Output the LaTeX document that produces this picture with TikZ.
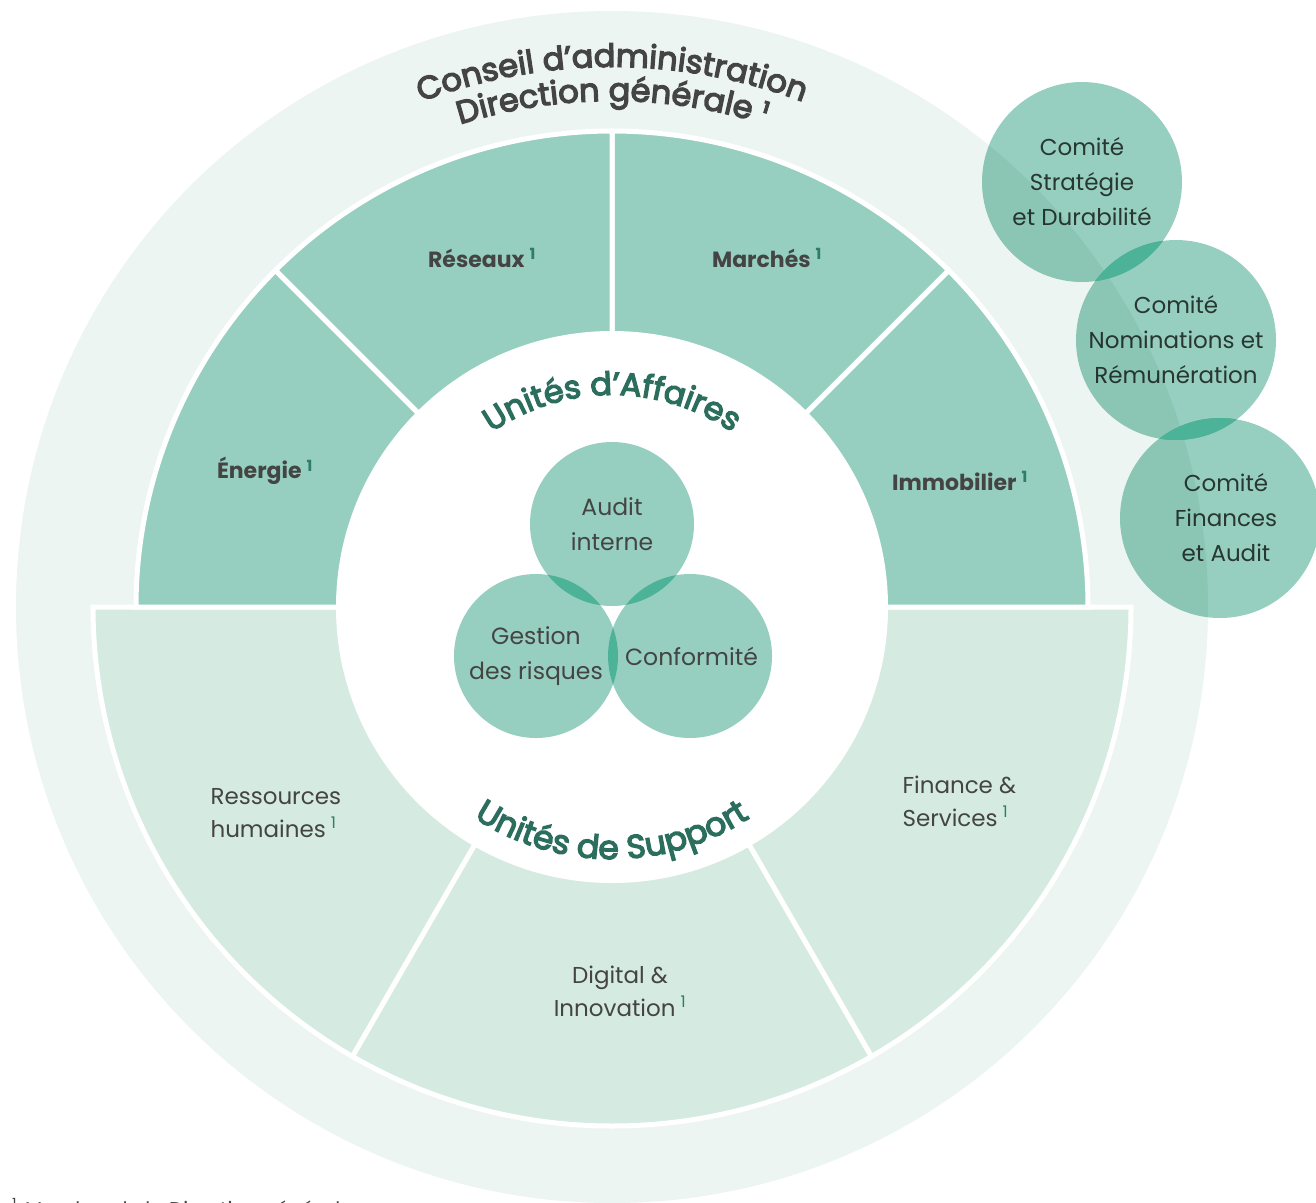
\documentclass[tikz,border=0pt]{standalone}
\usepackage{fontspec}
\setmainfont{Poppins}
\newfontfamily\medfont[FakeBold=4]{Poppins}
\usetikzlibrary{positioning,calc,decorations.text}
\definecolor{ringgreen}{HTML}{EDF5F2}
\definecolor{bizgreen}{HTML}{96CFBF}
\definecolor{supgreen}{HTML}{D5EBE2}
\definecolor{lensgreen}{HTML}{4DB398}
\definecolor{darkteal}{HTML}{2C6E5E}
\definecolor{supteal}{HTML}{2E7D6B}
\definecolor{textgray}{HTML}{444444}
\newcommand{\note}{\hspace{5pt}\textsuperscript{\textcolor{supteal}{1}}}
\tikzset{
    %Define style for sectors
    bizsector/.style={
           fill=bizgreen,
           draw=white, line width=5pt},
    supsector/.style={
           fill=supgreen,
           draw=white, line width=5pt},
    %Define style for labels
    bizlabel/.style={
           font=\fontsize{22}{26}\selectfont\bfseries,
           text=textgray},
    suplabel/.style={
           font=\fontsize{23}{33}\selectfont,
           text=textgray,
           align=left},
    venn/.style={
           circle,
           fill=bizgreen,
           minimum size=164pt,
           inner sep=0pt,
           font=\fontsize{23.5}{35}\selectfont,
           text=textgray,
           align=center},
    comite/.style={
           circle,
           fill=bizgreen,
           minimum size=200pt,
           inner sep=0pt,
           font=\fontsize{23}{35}\selectfont,
           text=textgray,
           align=center},
    lens/.style={fill=lensgreen}
}

\begin{document}
\begin{tikzpicture}[x=1pt,y=1pt]
\useasboundingbox (0,0) rectangle (1316,-1202);
\coordinate (C) at (612,-607);
% outer ring
\fill[ringgreen] (C) circle[radius=596];
% support units
\foreach \a in {180,240,300}
    \draw[supsector] (C) -- ++(\a:519) arc[start angle=\a, delta angle=60, radius=519] -- cycle;
% business units
\foreach \a in {0,45,90,135}
    \draw[bizsector] (C) -- ++(\a:476) arc[start angle=\a, delta angle=45, radius=476] -- cycle;
\fill[white] (C) circle[radius=276];

% ring titles
\path[decorate, decoration={text along path, text align=center,
    text={|\medfont\fontsize{32}{32}\selectfont\color{textgray}|Conseil d’administration}}]
    ($(C)+(150:540)$) arc[start angle=150, end angle=30, radius=540];
\path[decorate, decoration={text along path, text align=center,
    text={|\medfont\fontsize{32}{32}\selectfont\color{textgray}|Direction générale ¹}}]
    ($(C)+(150:506)$) arc[start angle=150, end angle=30, radius=506];
\path[decorate, decoration={text along path, text align=center,
    text={|\medfont\fontsize{32}{32}\selectfont\color{darkteal}|Unités d’Affaires}}]
    ($(C)+(160:212)$) arc[start angle=160, end angle=20, radius=212];
\path[decorate, decoration={text along path, text align=center,
    text={|\medfont\fontsize{33}{33}\selectfont\color{darkteal}|Unités de Support}}]
    ($(C)+(200:252)$) arc[start angle=200, end angle=340, radius=252];

% sector labels
\node[bizlabel] (reseaux) at (482,-258) {Réseaux\note};
\node[bizlabel] (marches) at (767,-258) {Marchés\note};
\node[bizlabel] (energie) at (265,-471) {Énergie\note};
\node[bizlabel] (immo) at (960,-481) {Immobilier\note};
\node[suplabel, anchor=west] (rh) at (207,-813) {Ressources\\humaines\note};
\node[suplabel, align=center] (digital) at (620,-991) {Digital \&\\Innovation\note};
\node[suplabel, anchor=west] (finance) at (899,-801) {Finance \&\\Services\note};

% control functions
\node[venn] (audit) at (612,-524) {Audit\\interne};
\node[venn] (gestion) at (536,-656) {Gestion\\des risques};
\node[venn] (conf) at (690,-656) {\hspace*{3pt}Conformité};
\begin{scope}
    \clip (audit.center) circle[radius=82];
    \fill[lens] (gestion.center) circle[radius=82];
    \fill[lens] (conf.center) circle[radius=82];
\end{scope}
\begin{scope}
    \clip (gestion.center) circle[radius=82];
    \fill[lens] (conf.center) circle[radius=82];
\end{scope}

% committees
\begin{scope}[blend mode=multiply]
\node[comite] (strat) at (1082,-182) {Comité\\Stratégie\\et Durabilité};
\node[comite] (nomin) at (1176,-340) {Comité\\Nominations et\\Rémunération};
\node[comite] (fin) at (1220,-518) {\hspace*{12pt}Comité\\\hspace*{12pt}Finances\\\hspace*{12pt}et Audit};
\end{scope}
\begin{scope}
    \clip (strat.center) circle[radius=100];
    \fill[lens] (nomin.center) circle[radius=100];
\end{scope}
\begin{scope}
    \clip (nomin.center) circle[radius=100];
    \fill[lens] (fin.center) circle[radius=100];
\end{scope}

% footnote
\node[anchor=base west, font=\fontsize{20}{24}\selectfont, text=textgray, inner sep=0pt]
    (footnote) at (12,-1216) {\textsuperscript{1}\hspace{8pt}Membre de la Direction générale};
\end{tikzpicture}
\end{document}
